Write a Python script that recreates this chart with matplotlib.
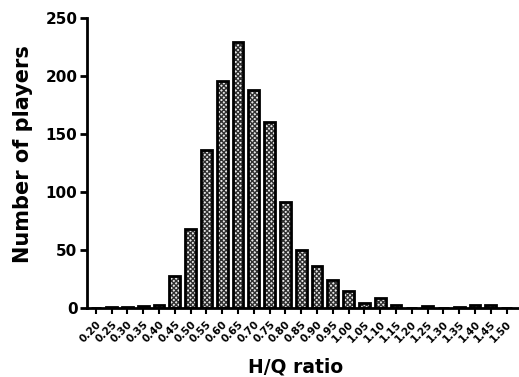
import matplotlib.pyplot as plt
import numpy as np

plt.rcParams['font.family'] = ['DejaVu Sans']
plt.rcParams['font.weight'] = 'bold'
plt.rcParams['hatch.linewidth'] = 1.0

ratio_labels = ['0.20', '0.25', '0.30', '0.35', '0.40', '0.45', '0.50', '0.55', '0.60',
                '0.65', '0.70', '0.75', '0.80', '0.85', '0.90', '0.95', '1.00', '1.05',
                '1.10', '1.15', '1.20', '1.25', '1.30', '1.35', '1.40', '1.45', '1.50']
players = [0, 1, 1, 2, 3, 28, 68, 136, 196, 229, 188, 160, 91, 50, 36, 24, 15, 4,
           9, 3, 0, 2, 0, 1, 3, 3, 0]

x = np.arange(len(ratio_labels))

fig = plt.figure(figsize=(5.19, 3.77), dpi=100)
ax = fig.add_axes([0.168, 0.183, 0.83, 0.769])

# checkered fill, then thick black outline on top
ax.bar(x, players, width=0.68, color='#e8e8e8', edgecolor='#303030',
       hatch='xxxxxxx', linewidth=0)
ax.bar(x, players, width=0.68, fill=False, edgecolor='black', linewidth=2)

ax.set_xlim(-0.55, 26.72)
ax.set_ylim(0, 250)
ax.set_yticks([0, 50, 100, 150, 200, 250])
ax.set_xticks(x)
ax.set_xticklabels(ratio_labels, rotation=45, ha='right', rotation_mode='anchor',
                   fontsize=7.5, fontweight='bold')
ax.tick_params(axis='y', labelsize=11, width=2, length=5, pad=2)
ax.tick_params(axis='x', width=1.5, length=4, pad=4)

for s in ['top', 'right']:
    ax.spines[s].set_visible(False)
for s in ['left', 'bottom']:
    ax.spines[s].set_linewidth(2)

ax.set_ylabel('Number of players', fontsize=15, fontweight='bold')
ax.set_xlabel('H/Q ratio', fontsize=13.5, fontweight='bold')
ax.yaxis.set_label_coords(-0.125, 0.53)
ax.xaxis.set_label_coords(0.483, -0.172)

plt.savefig('out.png', dpi=100)
